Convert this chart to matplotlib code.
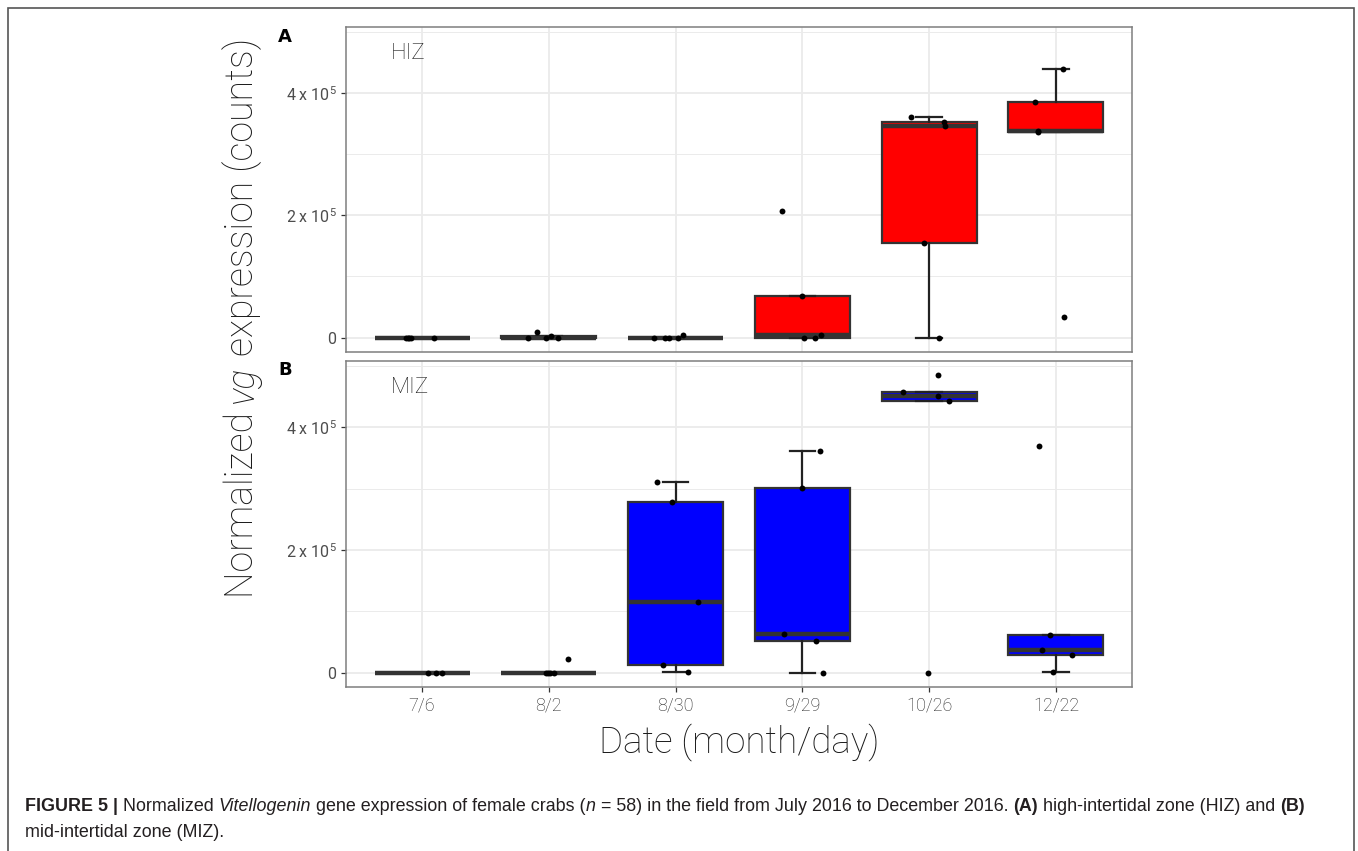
import matplotlib
matplotlib.use('Agg')
import matplotlib.pyplot as plt
from matplotlib.patches import Rectangle
import numpy as np

dates = ['7/6', '8/2', '8/30', '9/29', '10/26', '12/22']

# HIZ (panel A), normalized vg counts per sampling date
hiz_0706 = [0, 0, 0, 0, 0]
hiz_0802 = [10000, 0, 0, 2000, 0]
hiz_0830 = [0, 0, 0, 4000, 0]
hiz_0929 = [207000, 68600, 0, 0, 5000]
hiz_1026 = [360000, 353000, 346000, 154000, 0]
hiz_1222 = [440000, 385000, 337000, 34000, 338000]

# MIZ (panel B)
miz_0706 = [0, 0, 0]
miz_0802 = [0, 0, 0, 22400, 0]
miz_0830 = [310000, 278000, 115000, 12000, 1600]
miz_0929 = [362000, 301000, 62500, 52000, 0]
miz_1026 = [485000, 458000, 451000, 443000, 0]
miz_1222 = [370000, 61500, 37500, 29400, 500]

# jitter of the points as seen in the figure (category units)
hiz_jit = [[-0.128, -0.110, -0.087, 0.094, -0.10],
           [-0.094, -0.165, -0.024, 0.016, 0.071],
           [-0.173, -0.087, 0.016, 0.055, -0.05],
           [-0.157, 0.0, 0.016, 0.102, 0.150],
           [-0.142, 0.118, 0.126, -0.039, 0.079],
           [0.055, -0.165, -0.142, 0.063, -0.14]]
miz_jit = [[0.047, 0.110, 0.157],
           [-0.024, 0.008, 0.039, 0.150, -0.008],
           [-0.150, -0.031, 0.173, -0.102, 0.094],
           [0.142, 0.0, -0.142, 0.110, 0.165],
           [0.071, -0.205, 0.071, 0.157, -0.008],
           [-0.134, -0.047, -0.110, 0.126, -0.024]]

hiz = [hiz_0706, hiz_0802, hiz_0830, hiz_0929, hiz_1026, hiz_1222]
miz = [miz_0706, miz_0802, miz_0830, miz_0929, miz_1026, miz_1222]

LIGHT = dict(family='Roboto', fontweight='light')
plt.rcParams['mathtext.default'] = 'regular'

W, H = 1358, 851
fig = plt.figure(figsize=(W / 100, H / 100), dpi=100)
renderer = fig.canvas.get_renderer()


def px_axes(left, top, right, bottom):
    return fig.add_axes([left / W, 1 - bottom / H, (right - left) / W, (bottom - top) / H])


def text_width(txt, **kw):
    a = fig.text(0, 0, '|' + txt + '|', **kw)
    b = fig.text(0, 0, '||', **kw)
    w = a.get_window_extent(renderer).width - b.get_window_extent(renderer).width
    a.remove()
    b.remove()
    return w


def panel(ax, groups, jit, color, zone):
    pos = np.arange(1, len(groups) + 1)
    ax.boxplot(groups, positions=pos, widths=0.75, whis=1.5, showfliers=False,
               patch_artist=True, capwidths=0.2,
               boxprops=dict(facecolor=color, edgecolor='#333333', linewidth=1.6),
               medianprops=dict(color='#333333', linewidth=3.2),
               whiskerprops=dict(color='#222222', linewidth=1.6),
               capprops=dict(color='#222222', linewidth=1.6))
    for p, vals, j in zip(pos, groups, jit):
        ax.scatter(p + np.array(j), vals, s=18, color='black', linewidths=0, zorder=5)

    ax.set_xlim(0.4, 6.6)
    ax.set_ylim(-23500, 508000)
    ax.set_xticks(pos)
    ax.set_xticklabels(dates)
    ax.set_yticks([0, 200000, 400000])
    ax.set_yticklabels(['0', '2 x 10$^5$', '4 x 10$^5$'])
    ax.set_yticks([100000, 300000, 500000], minor=True)
    ax.set_xticks([], minor=True)
    ax.grid(which='major', color='#EBEBEB', linewidth=1.3, zorder=0)
    ax.grid(which='minor', axis='y', color='#EBEBEB', linewidth=0.7, zorder=0)
    ax.set_axisbelow(True)
    for s in ax.spines.values():
        s.set_color('#7F7F7F')
        s.set_linewidth(1.1)
    ax.tick_params(which='major', length=3.5, width=0.9, color='#333333',
                   labelcolor='#4D4D4D', labelsize=11.5)
    ax.tick_params(axis='x', labelsize=13, labelcolor='#262626')
    ax.tick_params(which='minor', length=0)
    for lab in ax.get_xticklabels():
        lab.set_family('Roboto')
        lab.set_fontweight('light')
    for lab in ax.get_yticklabels():
        lab.set_family('Roboto')
    ax.text(0.057, 0.95, zone, transform=ax.transAxes, fontsize=16,
            va='top', ha='left', color='#1A1A1A', **LIGHT)


ax1 = px_axes(346, 27, 1132, 352)
ax2 = px_axes(346, 361, 1132, 687)
panel(ax1, hiz, hiz_jit, '#FF0000', 'HIZ')
panel(ax2, miz, miz_jit, '#0000FF', 'MIZ')
ax1.tick_params(axis='x', length=0, labelbottom=False)

fig.text(285 / W, 1 - 37 / H, 'A', fontsize=13, fontweight='bold', ha='center', va='center')
fig.text(285 / W, 1 - 370 / H, 'B', fontsize=13, fontweight='bold', ha='center', va='center')

# y label with italic "vg", built from rotated pieces going upward
ylab = [('Normalized ', 'normal'), ('vg', 'italic'), (' expression (counts)', 'normal')]
widths = [text_width(t, fontsize=27, fontstyle=s, **LIGHT) for t, s in ylab]
y = (H - 318) - sum(widths) / 2
for (t, s), w in zip(ylab, widths):
    fig.text(253 / W, y / H, t, rotation=90, rotation_mode='anchor', ha='left',
             va='baseline', fontsize=27, fontstyle=s, color='#1A1A1A', **LIGHT)
    y += w

fig.text(739 / W, 1 - 742 / H, 'Date (month/day)', fontsize=26.5, color='#1A1A1A',
         ha='center', va='center', **LIGHT)

# outer frame of the figure page
fig.patches.append(Rectangle((8 / W, -0.02), (1354 - 8) / W, 1 - 8 / H + 0.02,
                             transform=fig.transFigure, fill=False,
                             edgecolor='#555555', linewidth=1.2))


def rich_line(x, y, parts):
    for txt, style in parts:
        kw = dict(fontsize=12.9, family='Liberation Sans', color='#231F20')
        if 'b' in style:
            kw['fontweight'] = 'bold'
        if 'i' in style:
            kw['fontstyle'] = 'italic'
        fig.text(x / W, 1 - y / H, txt, va='baseline', ha='left', **kw)
        x += text_width(txt, **kw)


cap1 = [('FIGURE 5 |', 'b'), (' Normalized ', ''), ('Vitellogenin', 'i'),
        (' gene expression of female crabs (', ''), ('n', 'i'),
        (' = 58) in the field from July 2016 to December 2016. ', ''), ('(A)', 'b'),
        (' high-intertidal zone (HIZ) and ', ''), ('(B)', 'b')]
cap2 = [('mid-intertidal zone (MIZ).', '')]
rich_line(25, 811, cap1)
rich_line(25, 837, cap2)

fig.savefig('out.png', dpi=100)
